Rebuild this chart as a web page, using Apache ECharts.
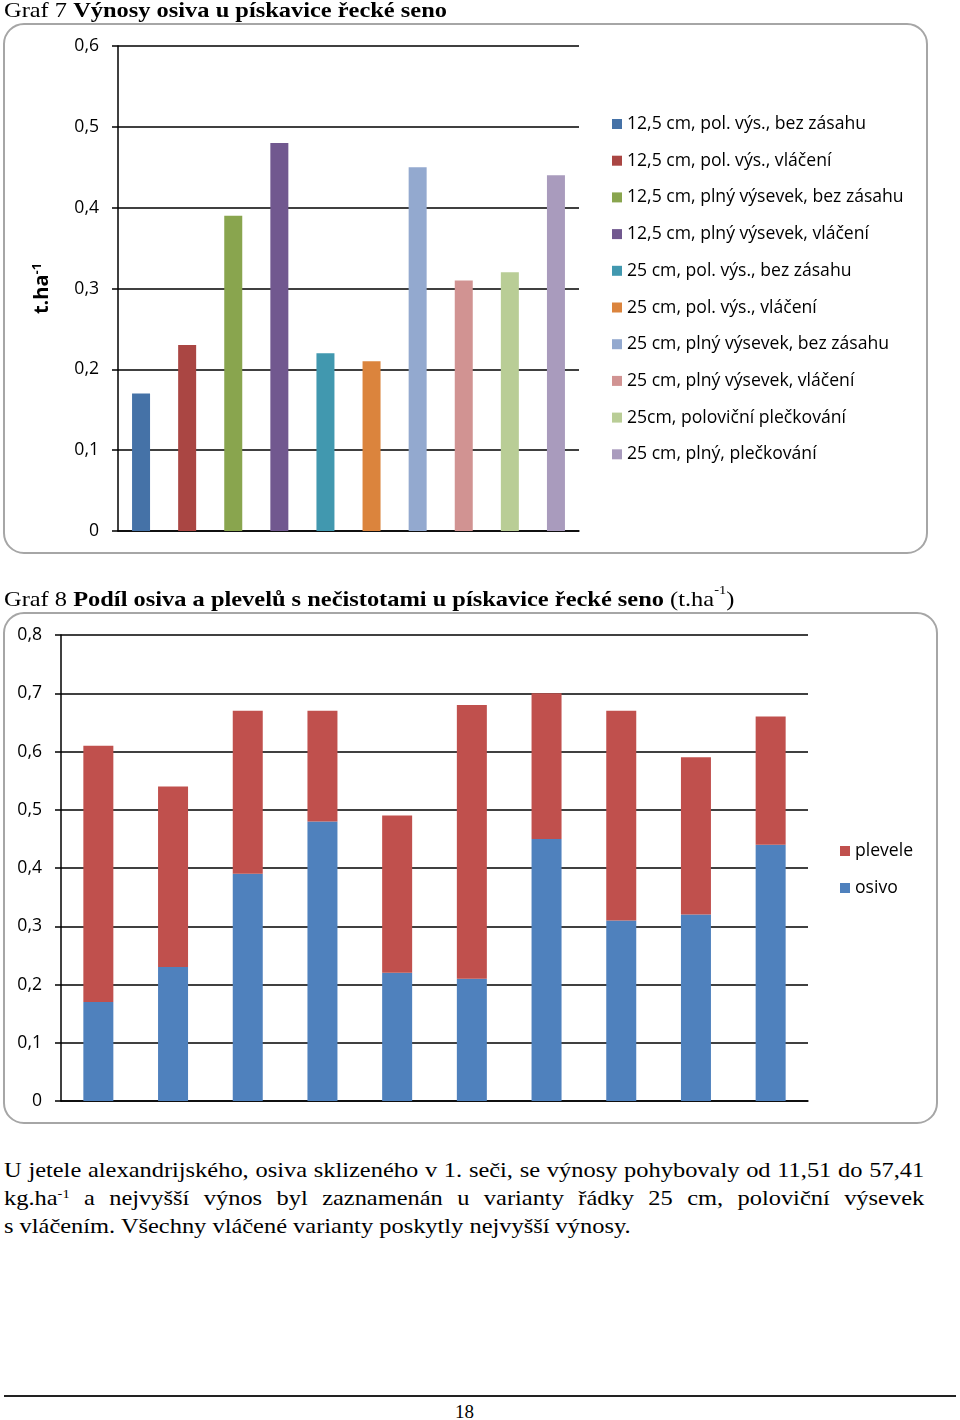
<!DOCTYPE html>
<html><head><meta charset="utf-8">
<script src="https://cdn.jsdelivr.net/npm/echarts@6/dist/echarts.min.js"></script>
<style>
html,body{margin:0;padding:0;background:#fff;width:960px;height:1420px;overflow:hidden;position:relative}
.t{position:absolute;font-family:"Liberation Serif","Times New Roman",serif;color:#000;white-space:nowrap;transform-origin:0 0;transform:scaleX(1.11)}
.t b{font-weight:bold}
.t sup{font-size:13px;vertical-align:top;position:relative;top:-4px}
#c1{position:absolute;left:0;top:0;width:960px;height:580px}
#c2{position:absolute;left:0;top:580px;width:960px;height:560px}
.p{position:absolute;left:4px;width:829px;font-family:"Liberation Serif",serif;font-size:22px;color:#000;line-height:28px;transform-origin:0 0;transform:scaleX(1.11)}
.p div{text-align:justify;text-align-last:justify;white-space:nowrap}
.p div.last{text-align-last:left}
.p sup{font-size:13px;vertical-align:top;position:relative;top:-4px}
</style></head><body>
<div id="c1"></div>
<div id="c2"></div>
<div class="t" style="left:4px;top:-3px;font-size:22px">Graf 7 <b>Výnosy osiva u pískavice řecké seno</b></div>
<div class="t" style="left:4px;top:586px;font-size:22px">Graf 8 <b>Podíl osiva a plevelů s nečistotami u pískavice řecké seno</b> (t.ha<sup>-1</sup>)</div>
<div class="p" style="top:1156px">
<div>U jetele alexandrijského, osiva sklizeného v 1. seči, se výnosy pohybovaly od 11,51 do 57,41</div>
<div>kg.ha<sup>-1</sup> a nejvyšší výnos byl zaznamenán u varianty řádky 25 cm, poloviční výsevek</div>
<div class="last">s vláčením. Všechny vláčené varianty poskytly nejvyšší výnosy.</div>
</div>
<div style="position:absolute;left:4px;top:1395px;width:952px;height:2px;background:#222"></div>
<div class="t" style="left:455px;top:1401px;font-size:19px;transform:none">18</div>
<script>
// ---- Data ----
const variants = [
  '12,5 cm, pol. výs., bez zásahu',
  '12,5 cm, pol. výs., vláčení',
  '12,5 cm, plný výsevek, bez zásahu',
  '12,5 cm, plný výsevek, vláčení',
  '25 cm, pol. výs., bez zásahu',
  '25 cm, pol. výs., vláčení',
  '25 cm, plný výsevek, bez zásahu',
  '25 cm, plný výsevek, vláčení',
  '25cm, poloviční plečkování',
  '25 cm, plný, plečkování'
];
const seedYield = [0.17, 0.23, 0.39, 0.48, 0.22, 0.21, 0.45, 0.31, 0.32, 0.44];
const osivo = [0.17, 0.23, 0.39, 0.48, 0.22, 0.21, 0.45, 0.31, 0.32, 0.44];
const plevele = [0.44, 0.31, 0.28, 0.19, 0.27, 0.47, 0.25, 0.36, 0.27, 0.22];
const yTicks1 = ['0', '0,1', '0,2', '0,3', '0,4', '0,5', '0,6'];
const yTicks2 = ['0', '0,1', '0,2', '0,3', '0,4', '0,5', '0,6', '0,7', '0,8'];
const colors1 = ['#4572A7','#AA4643','#89A54E','#71588F','#4198AF','#DB843D','#93A9CF','#D19392','#B9CD96','#A99BBD'];

const FONT = '"Open Sans", "Noto Sans", sans-serif';
const FS = 17.6;

// ---- Chart 1 ----
const ch1 = echarts.init(document.getElementById('c1'));
ch1.setOption({
  animation: false,
  color: colors1,
  graphic: [{type:'rect', shape:{x:4,y:24,width:923,height:529,r:20}, style:{fill:'none',stroke:'#a6a6a6',lineWidth:2}, z:-1}],
  grid: {left:118, top:46, width:461, bottom:49},
  legend: {
    orient:'vertical', left:607, top:109, itemWidth:10, itemHeight:10, itemGap:16.7,
    icon:'rect', data: variants,
    textStyle:{fontFamily:FONT, fontSize:FS, color:'#000', lineHeight:20}
  },
  xAxis: {type:'category', data: variants, axisLine:{lineStyle:{color:'#000',width:1.5}}, axisTick:{show:false}, axisLabel:{show:false}},
  yAxis: {
    type:'value', min:0, max:0.6, interval:0.1,
    name:'{a|t.ha}{s|-1}', nameLocation:'middle', nameGap:65, nameRotate:90,
    nameTextStyle:{rich:{a:{fontFamily:FONT,fontSize:20,fontWeight:'bold',color:'#000'}, s:{fontFamily:FONT,fontSize:13,fontWeight:'bold',color:'#000',padding:[0,0,9,0]}}},
    axisLine:{show:true, lineStyle:{color:'#000',width:1.5}},
    axisTick:{show:true, length:6, lineStyle:{color:'#000',width:1.5}},
    splitLine:{lineStyle:{color:'#000',width:1.5}},
    axisLabel:{margin:19, fontFamily:FONT, fontSize:FS, color:'#000', formatter:(v,i)=>yTicks1[i]}
  },
  series: variants.map((name, k) => ({
    name, type:'bar', barWidth:18, barGap:'-100%',
    data: seedYield.map((v, j) => j === k ? v : '-')
  }))
});

// ---- Chart 2 ----
const ch2 = echarts.init(document.getElementById('c2'));
ch2.setOption({
  animation: false,
  graphic: [{type:'rect', shape:{x:4,y:33,width:933,height:510,r:20}, style:{fill:'none',stroke:'#a6a6a6',lineWidth:2}, z:-1}],
  grid: {left:61, top:55, width:747, bottom:39},
  legend: {
    orient:'vertical', left:835, top:256, itemWidth:10, itemHeight:10, itemGap:17,
    icon:'rect', data:['plevele','osivo'],
    textStyle:{fontFamily:FONT, fontSize:FS, color:'#000', lineHeight:20}
  },
  xAxis: {type:'category', data: variants, axisLine:{lineStyle:{color:'#000',width:1.5}}, axisTick:{show:false}, axisLabel:{show:false}},
  yAxis: {
    type:'value', min:0, max:0.8, interval:0.1,
    axisLine:{show:true, lineStyle:{color:'#000',width:1.5}},
    axisTick:{show:true, length:6, lineStyle:{color:'#000',width:1.5}},
    splitLine:{lineStyle:{color:'#000',width:1.5}},
    axisLabel:{margin:19, fontFamily:FONT, fontSize:FS, color:'#000', formatter:(v,i)=>yTicks2[i]}
  },
  series: [
    {name:'osivo', type:'bar', stack:'s', barWidth:30, itemStyle:{color:'#4F81BD'}, data: osivo},
    {name:'plevele', type:'bar', stack:'s', barWidth:30, itemStyle:{color:'#C0504D'}, data: plevele}
  ]
});
</script>
</body></html>
